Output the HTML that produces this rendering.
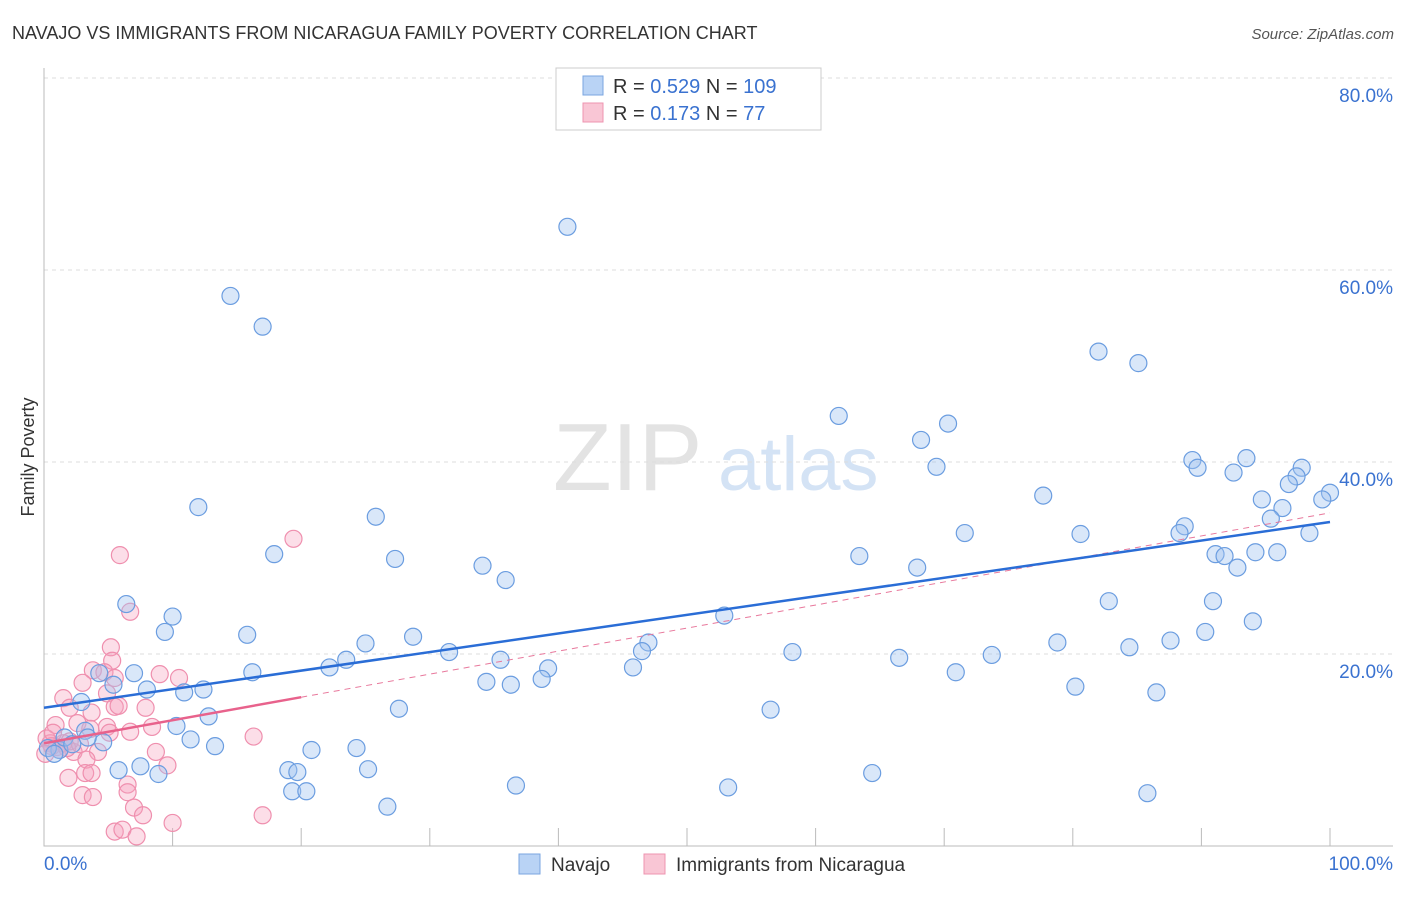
<!DOCTYPE html>
<html><head><meta charset="utf-8"><style>
body{margin:0;background:#fff;font-family:"Liberation Sans",sans-serif;}
svg text{font-family:"Liberation Sans",sans-serif;}
</style></head><body>
<svg id="chart" width="1406" height="892" xmlns="http://www.w3.org/2000/svg">
<text x="12" y="39" font-size="18" fill="#333">NAVAJO VS IMMIGRANTS FROM NICARAGUA FAMILY POVERTY CORRELATION CHART</text>
<text x="1394" y="39" font-size="15" fill="#555" font-style="italic" text-anchor="end">Source: ZipAtlas.com</text>
<text x="34" y="457" font-size="18" fill="#333" text-anchor="middle" transform="rotate(-90 34 457)">Family Poverty</text>
<g>
<text x="553" y="490" font-size="96" fill="#e3e3e3" font-family="Liberation Serif,serif">ZIP</text>
<text x="718" y="490" font-size="76" fill="#d4e3f5">atlas</text>
</g>
<g id="grid"></g>
<g id="axes"></g>
<g id="pink"></g>
<g id="blue"></g>
<g id="lines"></g>
<g>
<rect x="556" y="68" width="265" height="62" fill="#fff" stroke="#ccc"/>
<rect x="583" y="76" width="20" height="19" fill="#b9d3f5" stroke="#7aa6e0"/>
<rect x="583" y="103" width="20" height="19" fill="#f9c6d5" stroke="#ee94b0"/>
<text x="613" y="93" font-size="20" fill="#333">R = <tspan fill="#3a72d0">0.529</tspan>   N = <tspan fill="#3a72d0">109</tspan></text>
<text x="613" y="120" font-size="20" fill="#333">R =  <tspan fill="#3a72d0">0.173</tspan>   N =   <tspan fill="#3a72d0">77</tspan></text>
</g>
<g>
<rect x="519" y="854" width="21" height="20" fill="#b9d3f5" stroke="#7aa6e0"/>
<text x="551" y="871" font-size="19" fill="#333">Navajo</text>
<rect x="644" y="854" width="21" height="20" fill="#f9c6d5" stroke="#ee94b0"/>
<text x="676" y="871" font-size="19" fill="#333">Immigrants from Nicaragua</text>
</g>
</svg>
<script>
const yTicks=[20,40,60,80];
const xTickLabels=["0.0%","100.0%"];
const blueX=[40.7,14.5,17.0,82.0,85.1,61.8,70.3,68.2,69.4,89.3,89.7,93.5,92.5,97.8,97.4,96.8,100,99.4,77.7,94.7,96.3,95.4,88.7,88.3,98.4,71.6,80.6,12.0,25.8,17.9,27.3,34.1,35.9,63.4,67.9,91.1,91.8,94.2,95.9,92.8,82.8,90.9,6.4,10.0,52.9,94.0,15.8,90.3,9.4,28.7,25.0,47.0,46.5,78.8,87.6,84.4,31.5,58.2,73.7,23.5,35.5,22.2,66.5,39.2,45.8,7.0,16.2,70.9,38.7,34.4,36.3,8.0,10.9,12.4,5.4,4.3,80.2,86.5,2.9,27.6,56.5,12.8,10.3,11.4,3.2,4.6,13.3,20.8,24.3,5.8,7.5,8.9,19.0,19.7,25.2,64.4,36.7,53.2,19.3,20.4,26.7,85.8,1.2,0.3,1.6,3.4,0.8,2.2];
const blueY=[64.5,57.3,54.1,51.5,50.3,44.8,44.0,42.3,39.5,40.2,39.4,40.4,38.9,39.4,38.5,37.7,36.8,36.1,36.5,36.1,35.2,34.1,33.3,32.6,32.6,32.6,32.5,35.3,34.3,30.4,29.9,29.2,27.7,30.2,29.0,30.4,30.2,30.6,30.6,29.0,25.5,25.5,25.2,23.9,24.0,23.4,22.0,22.3,22.3,21.8,21.1,21.2,20.3,21.2,21.4,20.7,20.2,20.2,19.9,19.4,19.4,18.6,19.6,18.5,18.6,18.0,18.1,18.1,17.4,17.1,16.8,16.3,16.0,16.3,16.8,18.0,16.6,16.0,15.0,14.3,14.2,13.5,12.5,11.1,12.0,10.8,10.4,10.0,10.2,7.9,8.3,7.5,7.9,7.7,8.0,7.6,6.3,6.1,5.7,5.7,4.1,5.5,10.0,10.2,11.3,11.3,9.6,10.6];
const pinkX=[5.9,19.4,6.7,5.2,5.3,3.8,4.7,5.5,9.0,10.5,3.0,4.9,1.5,2.0,5.5,5.8,7.9,3.7,0.9,2.6,3.6,4.9,6.7,8.4,5.1,1.0,0.5,1.5,2.3,4.2,8.7,3.3,9.6,1.9,3.2,3.7,6.5,6.5,3.0,3.8,7.0,7.7,10.0,17.0,5.5,6.1,7.2,16.3,0.2,0.6,1.2,0.1,2.0,0.7,1.8,2.8];
const pinkY=[30.3,32.0,24.4,20.7,19.3,18.3,18.1,17.5,17.9,17.5,17.0,15.9,15.4,14.4,14.5,14.6,14.4,13.9,12.6,12.8,12.2,12.4,11.9,12.4,11.8,10.3,10.7,10.7,9.8,9.8,9.8,9.0,8.4,7.1,7.6,7.6,6.4,5.6,5.3,5.1,4.0,3.2,2.4,3.2,1.5,1.7,1.0,11.4,11.2,10.4,10.0,9.6,10.9,11.8,10.2,10.6];
const blueFit=[14.4,33.75];
const pinkFit=[10.7,34.7];
const NS="http://www.w3.org/2000/svg";
const X=v=>44+v*12.86, Y=v=>846-v*9.6;
function mk(t,a,p){const e=document.createElementNS(NS,t);for(const k in a)e.setAttribute(k,a[k]);p.appendChild(e);return e;}
const grid=document.getElementById('grid'),axes=document.getElementById('axes');
yTicks.forEach(t=>{
 const l=mk('line',{x1:44,x2:1393,y1:Y(t),y2:Y(t),stroke:'#ddd','stroke-dasharray':'4,4'},grid);
 
 
 const tx=mk('text',{x:1393,y:Y(t)+24,'font-size':19,fill:'#3a72d0','text-anchor':'end'},grid);
 tx.textContent=t.toFixed(1)+'%';
 
 
});
const ax=mk('path',{d:'M44 68V846H1393',stroke:'#bbb',fill:'none'},axes);


for(let i=1;i<=10;i++){const l=mk('line',{x1:X(i*10),x2:X(i*10),y1:828,y2:846,stroke:'#bbb'},axes);
 
 }
[[0,'start',44],[1,'end',1393]].forEach(([i,a,x])=>{const t=mk('text',{x:x,y:870,'font-size':19,fill:'#3a72d0','text-anchor':a},axes);t.textContent=xTickLabels[i];
 
 });
function pts(xs,ys,g,fill,stroke,name){const p=document.getElementById(g);xs.forEach((x,i)=>{const c=mk('circle',{cx:X(x),cy:Y(ys[i]),r:8.5,fill:fill,stroke:stroke,'stroke-width':1.2},p);
 
 });}
pts(pinkX,pinkY,'pink','rgba(245,160,190,0.35)','#ef8fae','nicaragua-point');
pts(blueX,blueY,'blue','rgba(160,196,240,0.4)','#6b9de0','navajo-point');
const L=document.getElementById('lines');
const pd=mk('line',{x1:X(20),y1:Y(pinkFit[0]+(pinkFit[1]-pinkFit[0])*0.2),x2:X(100),y2:Y(pinkFit[1]),stroke:'#e8789c','stroke-width':1,'stroke-dasharray':'6,5'},L);


const ps=mk('line',{x1:X(0),y1:Y(pinkFit[0]),x2:X(20),y2:Y(pinkFit[0]+(pinkFit[1]-pinkFit[0])*0.2),stroke:'#e8628c','stroke-width':2.5},L);


const bl=mk('line',{x1:X(0),y1:Y(blueFit[0]),x2:X(100),y2:Y(blueFit[1]),stroke:'#2a6dd6','stroke-width':2.5},L);


</script>
</body></html>
